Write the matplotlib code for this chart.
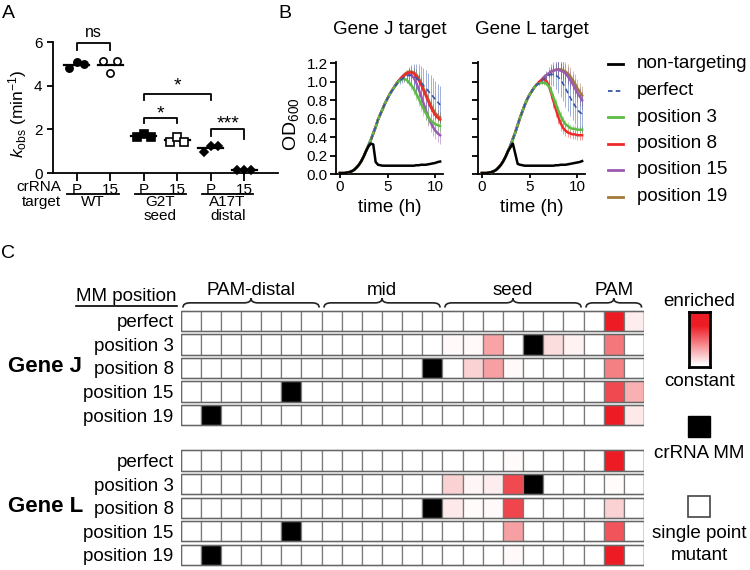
import numpy as np
import matplotlib
matplotlib.use('Agg')
import matplotlib.pyplot as plt
from matplotlib.patches import Rectangle, PathPatch
from matplotlib.path import Path
from matplotlib.colors import LinearSegmentedColormap
from matplotlib.ticker import FormatStrFormatter
from matplotlib.transforms import blended_transform_factory

plt.rcParams['font.family'] = ['Liberation Sans', 'DejaVu Sans']
plt.rcParams['mathtext.fontset'] = 'custom'
plt.rcParams['mathtext.rm'] = 'Liberation Sans'
plt.rcParams['mathtext.it'] = 'Liberation Sans:italic'
plt.rcParams['mathtext.bf'] = 'Liberation Sans:bold'

# ---------------- panel A: cleavage rates ----------------
crrna_labels = ['P', '15', 'P', '15', 'P', '15']
targets = ['WT', 'G2T', 'A17T']
target_notes = ['', 'seed', 'distal']
kobs_wt_p = [4.80, 5.07, 4.99]
kobs_wt_15 = [5.13, 4.57, 5.13]
kobs_g2t_p = [1.66, 1.79, 1.66]
kobs_g2t_15 = [1.43, 1.63, 1.43]
kobs_a17t_p = [0.95, 1.25, 1.25]
kobs_a17t_15 = [0.13, 0.14, 0.13]
kobs = [kobs_wt_p, kobs_wt_15, kobs_g2t_p, kobs_g2t_15, kobs_a17t_p, kobs_a17t_15]
markers = ['o', 'o', 's', 's', 'D', 'D']
filled = [True, False, True, False, True, True]
# (left, right, top, left leg, right leg, label, label baseline)
sig_brackets = [
    (1, 2, 5.95, 5.65, 5.65, 'ns', 6.23),
    (3, 5, 3.60, 3.35, 3.35, '*', 3.76),
    (3, 4, 2.53, 2.28, 2.28, '*', 2.52),
    (5, 6, 2.00, 1.70, 1.55, '***', 2.02),
]

# ---------------- panel B: growth curves ----------------
hours = np.arange(0, 10.75, 0.25)   # readings every 15 min
series_labels = ['non-targeting', 'perfect', 'position 3', 'position 8', 'position 15', 'position 19']
series_colors = ['black', '#3556A8', '#5DBB46', '#EE2A2A', '#9A5BB2', '#A07A36']

od_j_nt = [0.01, 0.01, 0.01, 0.015, 0.02, 0.03, 0.045, 0.07, 0.10, 0.14, 0.19, 0.25, 0.30, 0.33, 0.32, 0.13,
           0.10, 0.095, 0.09, 0.09, 0.09, 0.09, 0.09, 0.09, 0.09, 0.09, 0.09, 0.09, 0.09, 0.09, 0.09, 0.09,
           0.095, 0.095, 0.10, 0.10, 0.10, 0.105, 0.11, 0.115, 0.12, 0.13, 0.135]
od_j_growth = [0.01, 0.01, 0.01, 0.015, 0.02, 0.03, 0.045, 0.07, 0.10, 0.14, 0.19, 0.25, 0.31, 0.37, 0.44, 0.51,
               0.59, 0.65, 0.71, 0.77, 0.82, 0.87, 0.91, 0.95]
od_j_perfect = od_j_growth + [0.98, 1.01, 1.03, 1.05, 1.06, 1.07, 1.07, 1.06, 1.04, 1.02, 0.99, 0.96, 0.93, 0.90, 0.87, 0.84, 0.81, 0.78, 0.75]
od_j_p3 = od_j_growth + [0.99, 1.01, 1.03, 1.03, 1.02, 0.99, 0.96, 0.92, 0.87, 0.82, 0.76, 0.71, 0.66, 0.62, 0.58, 0.56, 0.54, 0.53, 0.52]
od_j_p8 = od_j_growth + [0.99, 1.02, 1.05, 1.07, 1.09, 1.10, 1.10, 1.09, 1.06, 1.02, 0.97, 0.91, 0.85, 0.79, 0.73, 0.68, 0.64, 0.61, 0.59]
od_j_p15 = od_j_growth + [0.99, 1.02, 1.05, 1.07, 1.08, 1.08, 1.07, 1.04, 0.99, 0.92, 0.85, 0.77, 0.69, 0.62, 0.56, 0.51, 0.47, 0.44, 0.42]
od_j_p19 = od_j_growth + [0.99, 1.02, 1.05, 1.08, 1.10, 1.11, 1.11, 1.10, 1.08, 1.04, 0.99, 0.93, 0.87, 0.81, 0.75, 0.70, 0.66, 0.63, 0.61]
# standard deviations from 6 h on
err_j_perfect = [0.02, 0.03, 0.04, 0.05, 0.07, 0.09, 0.11, 0.13, 0.15, 0.17, 0.18, 0.19, 0.20, 0.20, 0.20, 0.20, 0.20, 0.20, 0.20]
err_j_p3 = [0.01, 0.01, 0.02, 0.02, 0.03, 0.04, 0.05, 0.06, 0.07, 0.08, 0.08, 0.08, 0.08, 0.08, 0.07, 0.07, 0.07, 0.07, 0.07]
err_j_p8 = [0.01, 0.01, 0.01, 0.02, 0.02, 0.03, 0.03, 0.04, 0.04, 0.05, 0.05, 0.05, 0.05, 0.05, 0.05, 0.05, 0.05, 0.05, 0.05]
err_j_p15 = [0.01, 0.01, 0.02, 0.03, 0.04, 0.05, 0.06, 0.07, 0.08, 0.09, 0.10, 0.10, 0.10, 0.10, 0.10, 0.10, 0.09, 0.09, 0.09]
err_j_p19 = [0.01, 0.01, 0.02, 0.02, 0.03, 0.04, 0.05, 0.06, 0.06, 0.06, 0.06, 0.06, 0.06, 0.06, 0.06, 0.06, 0.06, 0.06, 0.06]

od_l_nt = [0.01, 0.01, 0.01, 0.015, 0.02, 0.03, 0.045, 0.07, 0.10, 0.14, 0.19, 0.25, 0.29, 0.33, 0.22, 0.11,
           0.10, 0.095, 0.09, 0.09, 0.09, 0.09, 0.09, 0.09, 0.09, 0.09, 0.09, 0.09, 0.09, 0.09, 0.09, 0.095,
           0.095, 0.10, 0.10, 0.10, 0.105, 0.11, 0.115, 0.12, 0.125, 0.13, 0.14]
od_l_growth = [0.01, 0.01, 0.01, 0.015, 0.02, 0.03, 0.045, 0.07, 0.10, 0.14, 0.19, 0.25, 0.31, 0.38, 0.45, 0.53,
               0.61, 0.68, 0.75, 0.81, 0.86, 0.90, 0.94, 0.97]
od_l_perfect = od_l_growth + [0.98, 1.01, 1.03, 1.05, 1.07, 1.08, 1.08, 1.07, 1.05, 1.02, 0.98, 0.93, 0.88, 0.83, 0.78, 0.74, 0.70, 0.67, 0.65]
od_l_p3 = od_l_growth + [0.98, 0.99, 0.99, 0.98, 0.95, 0.90, 0.83, 0.76, 0.69, 0.63, 0.58, 0.54, 0.52, 0.50, 0.49, 0.49, 0.48, 0.48, 0.48]
od_l_p8 = od_l_growth + [1.00, 1.02, 1.03, 1.01, 0.96, 0.88, 0.79, 0.70, 0.62, 0.55, 0.50, 0.47, 0.45, 0.44, 0.43, 0.43, 0.42, 0.42, 0.42]
od_l_p15 = od_l_growth + [0.99, 1.02, 1.05, 1.07, 1.09, 1.11, 1.12, 1.13, 1.13, 1.12, 1.11, 1.09, 1.06, 1.02, 0.98, 0.93, 0.88, 0.84, 0.80]
od_l_p19 = od_l_growth + [0.99, 1.02, 1.05, 1.07, 1.09, 1.11, 1.12, 1.13, 1.135, 1.135, 1.125, 1.11, 1.09, 1.06, 1.02, 0.98, 0.93, 0.89, 0.85]
err_l_perfect = [0.02, 0.03, 0.05, 0.07, 0.09, 0.11, 0.13, 0.15, 0.17, 0.18, 0.19, 0.20, 0.20, 0.20, 0.20, 0.20, 0.20, 0.20, 0.20]
err_l_p3 = [0.01, 0.01, 0.02, 0.02, 0.03, 0.04, 0.05, 0.05, 0.05, 0.05, 0.05, 0.04, 0.04, 0.04, 0.04, 0.04, 0.04, 0.04, 0.04]
err_l_p8 = [0.01, 0.02, 0.03, 0.05, 0.06, 0.07, 0.08, 0.08, 0.08, 0.08, 0.07, 0.06, 0.05, 0.05, 0.05, 0.05, 0.05, 0.05, 0.05]
err_l_p15 = [0.01, 0.01, 0.02, 0.03, 0.04, 0.05, 0.06, 0.07, 0.08, 0.09, 0.10, 0.10, 0.10, 0.10, 0.10, 0.10, 0.10, 0.10, 0.10]
err_l_p19 = [0.01, 0.01, 0.02, 0.03, 0.04, 0.05, 0.06, 0.07, 0.08, 0.09, 0.10, 0.10, 0.10, 0.10, 0.10, 0.10, 0.10, 0.10, 0.10]

# ---------------- panel C: enrichment heatmaps ----------------
mm_labels = ['perfect', 'position 3', 'position 8', 'position 15', 'position 19']
mm_positions = [0, 3, 8, 15, 19]          # crRNA mismatch position, 0 = none
regions = ['PAM-distal', 'mid', 'seed', 'PAM']
region_cols = [(0, 7), (7, 13), (13, 20), (20, 23)]
#            PAM-distal            | mid               | seed                           | PAM
enrich_j = [
    [0, 0, 0, 0, 0, 0, 0, 0, 0, 0, 0, 0, 0, 0, 0, 0, 0, 0, 0, 0, 0, 1.00, 0.08],
    [0, 0, 0, 0, 0, 0, 0, 0, 0, 0, 0, 0, 0, 0.03, 0.03, 0.40, 0, 0, 0.15, 0.06, 0, 0.60, 0],
    [0, 0, 0, 0, 0, 0, 0, 0, 0, 0, 0, 0, 0, 0, 0.20, 0.42, 0.03, 0, 0, 0, 0, 0.56, 0],
    [0, 0, 0, 0, 0, 0, 0, 0, 0, 0, 0, 0, 0, 0, 0, 0, 0, 0, 0, 0, 0, 0.80, 0.35],
    [0, 0, 0, 0, 0, 0, 0, 0, 0, 0, 0, 0, 0, 0, 0, 0, 0, 0, 0, 0, 0, 1.00, 0.10],
]
enrich_l = [
    [0, 0, 0, 0, 0, 0, 0, 0, 0, 0, 0, 0, 0, 0, 0, 0, 0.02, 0, 0, 0, 0, 1.00, 0],
    [0, 0, 0, 0, 0, 0, 0, 0, 0, 0, 0, 0, 0, 0.20, 0.04, 0.08, 0.80, 0, 0, 0, 0, 0.02, 0],
    [0, 0, 0, 0, 0, 0, 0, 0, 0, 0, 0, 0, 0, 0.10, 0.02, 0.03, 0.82, 0, 0, 0, 0, 0.20, 0],
    [0, 0, 0, 0, 0, 0, 0, 0, 0, 0, 0, 0, 0, 0, 0, 0, 0.42, 0, 0, 0, 0, 0.75, 0],
    [0, 0, 0, 0, 0, 0, 0, 0, 0, 0, 0, 0, 0, 0, 0, 0, 0.03, 0, 0, 0, 0, 1.00, 0],
]

W, H = 750, 570
fig = plt.figure(figsize=(W / 100, H / 100), dpi=100)


def px_rect(x0, y0, x1, y1):
    return [x0 / W, 1 - y1 / H, (x1 - x0) / W, (y1 - y0) / H]


# overlay in pixel units for free text
ov = fig.add_axes([0, 0, 1, 1])
ov.set_xlim(0, W)
ov.set_ylim(H, 0)
ov.axis('off')

for letter, x, y in [('A', 8, 14), ('B', 285, 14), ('C', 8, 253)]:
    ov.text(x, y, letter, fontsize=14, ha='center', va='center')

# ---- A ----
ax = fig.add_axes(px_rect(53, 42, 278, 173))
xpos = np.arange(1, 7)
offsets = np.array([-0.21, 0, 0.21])
for x, vals, m, f in zip(xpos, kobs, markers, filled):
    ax.plot(x + offsets, vals, linestyle='none', marker=m, ms=4.2 if m == 'D' else 5.2,
            mfc='black' if f else 'white', mec='black', mew=1.2, clip_on=False, zorder=3)
    ax.plot([x - 0.37, x + 0.37], [np.mean(vals)] * 2, color='black', lw=1.6, zorder=2)
for x1, x2, top, l1, l2, lab, yb in sig_brackets:
    ax.plot([x1, x1, x2, x2], [l1, top, top, l2], color='black', lw=1.3, clip_on=False)
    ax.text((x1 + x2) / 2, yb, lab, ha='center', va='baseline',
            fontsize=14 if '*' in lab else 11.5, clip_on=False)
ax.set_xlim(0.3, 7.0)
ax.set_ylim(0, 6)
ax.set_yticks([0, 2, 4, 6])
ax.set_xticks(xpos, crrna_labels)
for s in ['top', 'right']:
    ax.spines[s].set_visible(False)
for s in ['left', 'bottom']:
    ax.spines[s].set_linewidth(1.3)
ax.tick_params(axis='both', labelsize=11, width=1.3, length=4)
ax.tick_params(axis='x', length=6, pad=1)
ax.set_ylabel(r'$k_{\mathrm{obs}}$ (min$^{-1}$)', fontsize=12.5)
ax.yaxis.set_label_coords(-0.105, 0.45)

trans = blended_transform_factory(ax.transData, ov.transData)
ax.text(0.55, 187, 'crRNA', transform=trans, ha='right', va='center', fontsize=11)
ax.text(0.55, 202, 'target', transform=trans, ha='right', va='center', fontsize=11)
for i, (tg, note) in enumerate(zip(targets, target_notes)):
    c = 1.5 + 2 * i
    ax.plot([c - 0.77, c + 0.77], [193.5, 193.5], transform=trans, color='black', lw=1.3, clip_on=False)
    ax.text(c, 202, tg, transform=trans, ha='center', va='center', fontsize=11)
    if note:
        ax.text(c, 216, note, transform=trans, ha='center', va='center', fontsize=11)

# ---- B ----
ax_j = fig.add_axes(px_rect(336, 62, 443, 174))
ax_l = fig.add_axes(px_rect(478, 62, 585, 174))
od_j = [od_j_nt, od_j_perfect, od_j_p3, od_j_p8, od_j_p15, od_j_p19]
err_j = [None, err_j_perfect, err_j_p3, err_j_p8, err_j_p15, err_j_p19]
od_l = [od_l_nt, od_l_perfect, od_l_p3, od_l_p8, od_l_p15, od_l_p19]
err_l = [None, err_l_perfect, err_l_p3, err_l_p8, err_l_p15, err_l_p19]
draw_order = [5, 4, 3, 2, 1, 0]

for axb, title, curves, errs, cx in [(ax_j, 'Gene J target', od_j, err_j, 389.5),
                                      (ax_l, 'Gene L target', od_l, err_l, 531.5)]:
    for i in draw_order:
        if errs[i] is not None:
            axb.errorbar(hours[24:], curves[i][24:], yerr=errs[i], fmt='none',
                         ecolor=series_colors[i], elinewidth=0.6, alpha=0.55, zorder=1)
    for k, i in enumerate(draw_order):
        if i == 1:
            axb.plot(hours, curves[i], color=series_colors[i], lw=1.2, ls=(0, (3, 2)), zorder=2 + k)
        else:
            axb.plot(hours, curves[i], color=series_colors[i], lw=1.8, zorder=2 + k)
    axb.set_xlim(-0.4, 10.8)
    axb.set_ylim(0, 1.214)
    axb.set_xticks([0, 5, 10])
    axb.set_yticks(np.arange(0, 1.21, 0.2))
    axb.yaxis.set_major_formatter(FormatStrFormatter('%.1f'))
    for s in ['top', 'right']:
        axb.spines[s].set_visible(False)
    for s in ['left', 'bottom']:
        axb.spines[s].set_linewidth(1.3)
    axb.tick_params(axis='both', labelsize=11, width=1.3, length=4, pad=2)
    axb.tick_params(axis='x', length=3, pad=1)
    ov.text(cx, 30, title, fontsize=13.5, ha='center', va='center')
    ov.text(cx, 207, 'time (h)', fontsize=13.5, ha='center', va='center')
ax_l.tick_params(labelleft=False)
ov.text(291, 124, r'OD$_{600}$', rotation=90, fontsize=14, ha='center', va='center')

leg_y = [64, 90.5, 117, 143.5, 170, 196.5]
for i, y in enumerate(leg_y):
    if i == 1:
        ov.plot([608, 623], [y, y], color=series_colors[i], lw=1.3, ls=(0, (2.5, 1.8)))
    else:
        ov.plot([608, 623], [y, y], color=series_colors[i], lw=2)
    ov.text(637, y, series_labels[i], fontsize=13.5, ha='left', va='center')

# ---- C ----
cmap = LinearSegmentedColormap.from_list('enrich', ['white', '#ED1C24'])


def brace(axh, x0, x1, yb, yt, yp, r=0.35):
    xm = (x0 + x1) / 2
    verts = [(x0, yb), (x0, yt), (x0 + r, yt), (xm - r, yt), (xm, yt), (xm, yp),
             (xm, yt), (xm + r, yt), (x1 - r, yt), (x1, yt), (x1, yb)]
    codes = [Path.MOVETO, Path.CURVE3, Path.CURVE3, Path.LINETO, Path.CURVE3, Path.CURVE3,
             Path.CURVE3, Path.CURVE3, Path.LINETO, Path.CURVE3, Path.CURVE3]
    axh.add_patch(PathPatch(Path(verts, codes), fill=False, lw=1.2, edgecolor='#222222', clip_on=False))


def heat_block(top_px, enrich, gene):
    axh = fig.add_axes(px_rect(180.5, top_px, 644, top_px + 5 * 23.6))
    axh.set_xlim(0, 23)
    axh.set_ylim(5, 0)
    for r, row in enumerate(enrich):
        mm_col = 20 - mm_positions[r] if mm_positions[r] else None
        for c, v in enumerate(row):
            color = 'black' if c == mm_col else cmap(v)
            axh.add_patch(Rectangle((c, r + 0.07), 1, 0.86, facecolor=color,
                                    edgecolor='#7a7a7a', lw=0.9))
        axh.add_patch(Rectangle((0, r + 0.07), 23, 0.86, fill=False, edgecolor='#666666', lw=1.0))
    axh.set_xticks([])
    axh.set_yticks(np.arange(5) + 0.5, mm_labels)
    axh.tick_params(axis='y', length=0, pad=5, labelsize=13.5)
    for s in axh.spines.values():
        s.set_visible(False)
    ov.text(8, top_px + 2.5 * 23.6 - 1, gene, fontsize=16, fontweight='bold', ha='left', va='center')
    return axh


hj = heat_block(309, enrich_j, 'Gene J')
heat_block(448.7, enrich_l, 'Gene L')
for name, (c0, c1) in zip(regions, region_cols):
    brace(hj, c0 + 0.12, c1 - 0.12, -0.06, -0.26, -0.45)
    hj.text((c0 + c1) / 2, -0.6, name, ha='center', va='baseline', fontsize=13.5)

ov.text(176, 301, 'MM position', fontsize=13.5, ha='right', va='baseline')
ov.plot([76, 177], [306, 306], color='black', lw=1.2)

# colour key
cax = fig.add_axes(px_rect(689, 312, 710, 367))
grad = np.clip(np.linspace(-0.05, 1.35, 256), 0, 1)[:, None]
cax.imshow(grad, aspect='auto', cmap=cmap, origin='lower', extent=(0, 1, 0, 1))
cax.set_xticks([])
cax.set_yticks([])
for s in cax.spines.values():
    s.set_linewidth(2)
ov.text(699.5, 301, 'enriched', fontsize=13.5, ha='center', va='center')
ov.text(699.5, 381, 'constant', fontsize=13.5, ha='center', va='center')
ov.add_patch(Rectangle((688, 416), 22, 21, facecolor='black', edgecolor='black'))
ov.text(699.5, 453, 'crRNA MM', fontsize=13.5, ha='center', va='center')
ov.add_patch(Rectangle((688, 496), 22, 21, facecolor='white', edgecolor='#444444', lw=1.2))
ov.text(699.5, 533, 'single point', fontsize=13.5, ha='center', va='center')
ov.text(699.5, 555, 'mutant', fontsize=13.5, ha='center', va='center')

fig.savefig('out.png', dpi=100)
